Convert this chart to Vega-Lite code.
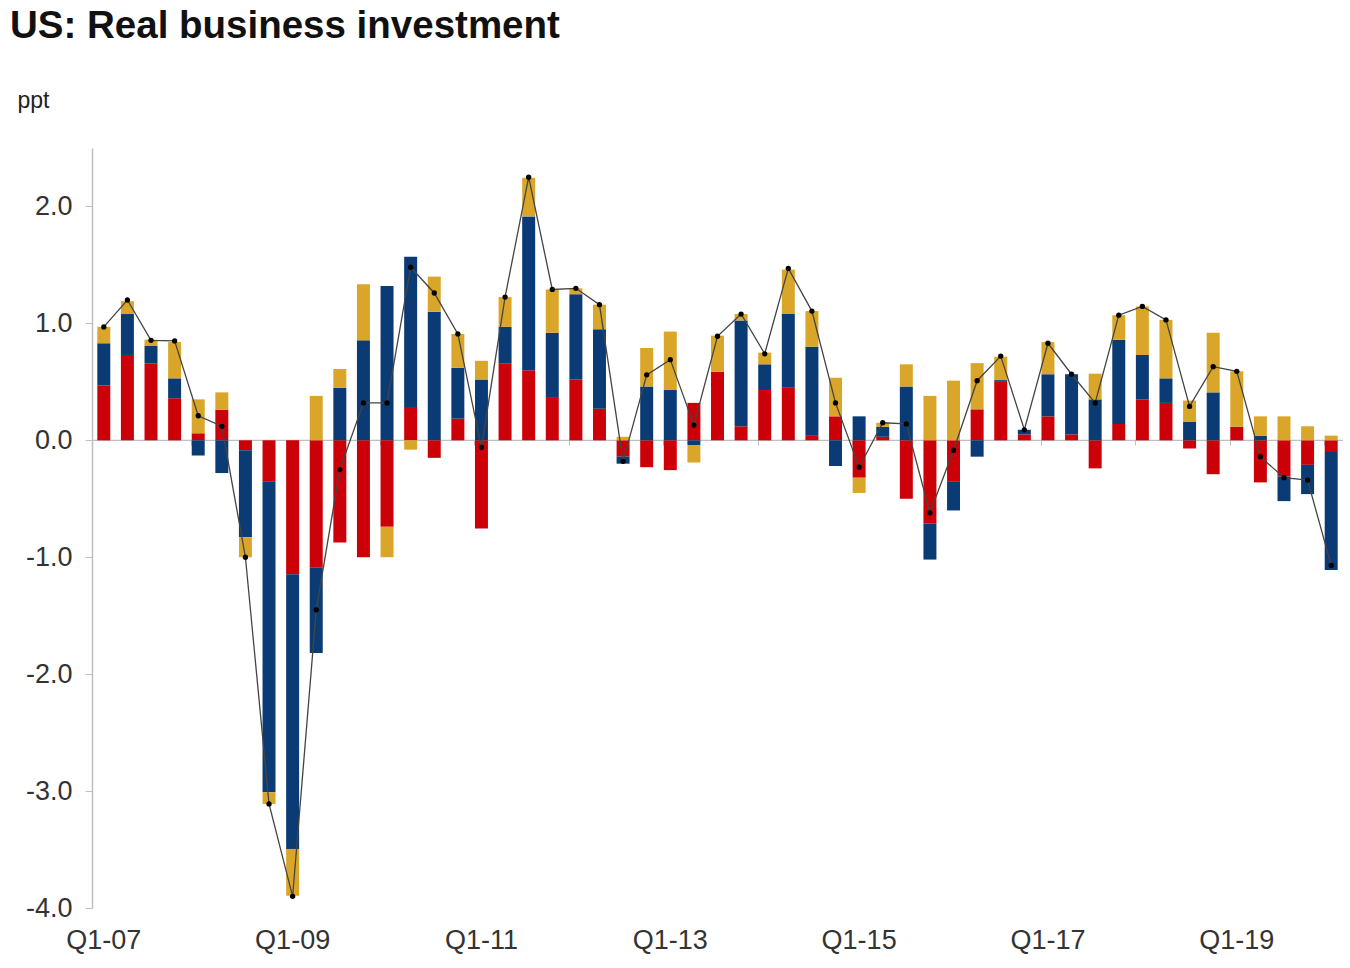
{
  "$schema": "https://vega.github.io/schema/vega-lite/v6.json",
  "width": 1251,
  "height": 760,
  "autosize": "none",
  "padding": {"left": 92, "top": 148, "right": 7, "bottom": 60},
  "background": "white",
  "config": {
    "font": "Liberation Sans",
    "view": {"stroke": null}
  },
  "title": {
    "text": "US: Real business investment",
    "anchor": "start",
    "frame": "group",
    "dx": -82,
    "offset": 43,
    "fontSize": 38.5,
    "fontWeight": "bold",
    "font": "Liberation Sans",
    "color": "#111111"
  },
  "data": {
    "values": [
      {"q": "Q1-07", "Structures": 0.47, "Equipment": 0.36, "IPP": 0.14, "total": 0.97},
      {"q": "Q2-07", "Structures": 0.73, "Equipment": 0.35, "IPP": 0.11, "total": 1.2},
      {"q": "Q3-07", "Structures": 0.66, "Equipment": 0.15, "IPP": 0.05, "total": 0.855},
      {"q": "Q4-07", "Structures": 0.36, "Equipment": 0.17, "IPP": 0.31, "total": 0.85},
      {"q": "Q1-08", "Structures": 0.06, "Equipment": -0.13, "IPP": 0.29, "total": 0.21},
      {"q": "Q2-08", "Structures": 0.26, "Equipment": -0.28, "IPP": 0.15, "total": 0.12},
      {"q": "Q3-08", "Structures": -0.085, "Equipment": -0.745, "IPP": -0.17, "total": -1.0},
      {"q": "Q4-08", "Structures": -0.35, "Equipment": -2.66, "IPP": -0.1, "total": -3.11},
      {"q": "Q1-09", "Structures": -1.145, "Equipment": -2.35, "IPP": -0.4, "total": -3.9},
      {"q": "Q2-09", "Structures": -1.09, "Equipment": -0.73, "IPP": 0.38, "total": -1.45},
      {"q": "Q3-09", "Structures": -0.875, "Equipment": 0.45, "IPP": 0.16, "total": -0.25},
      {"q": "Q4-09", "Structures": -1.0, "Equipment": 0.855, "IPP": 0.48, "total": 0.32},
      {"q": "Q1-10", "Structures": -0.74, "Equipment": 1.32, "IPP": -0.26, "total": 0.32},
      {"q": "Q2-10", "Structures": 0.285, "Equipment": 1.285, "IPP": -0.08, "total": 1.48},
      {"q": "Q3-10", "Structures": -0.15, "Equipment": 1.1, "IPP": 0.3, "total": 1.26},
      {"q": "Q4-10", "Structures": 0.185, "Equipment": 0.435, "IPP": 0.29, "total": 0.91},
      {"q": "Q1-11", "Structures": -0.755, "Equipment": 0.52, "IPP": 0.16, "total": -0.06},
      {"q": "Q2-11", "Structures": 0.655, "Equipment": 0.315, "IPP": 0.255, "total": 1.225},
      {"q": "Q3-11", "Structures": 0.6, "Equipment": 1.315, "IPP": 0.33, "total": 2.25},
      {"q": "Q4-11", "Structures": 0.37, "Equipment": 0.55, "IPP": 0.37, "total": 1.29},
      {"q": "Q1-12", "Structures": 0.52, "Equipment": 0.73, "IPP": 0.05, "total": 1.3},
      {"q": "Q2-12", "Structures": 0.27, "Equipment": 0.68, "IPP": 0.21, "total": 1.16},
      {"q": "Q3-12", "Structures": -0.14, "Equipment": -0.06, "IPP": 0.03, "total": -0.18},
      {"q": "Q4-12", "Structures": -0.23, "Equipment": 0.46, "IPP": 0.33, "total": 0.56},
      {"q": "Q1-13", "Structures": -0.255, "Equipment": 0.43, "IPP": 0.5, "total": 0.69},
      {"q": "Q2-13", "Structures": 0.32, "Equipment": -0.04, "IPP": -0.15, "total": 0.13},
      {"q": "Q3-13", "Structures": 0.585, "Equipment": 0.0, "IPP": 0.31, "total": 0.89},
      {"q": "Q4-13", "Structures": 0.12, "Equipment": 0.905, "IPP": 0.055, "total": 1.08},
      {"q": "Q1-14", "Structures": 0.43, "Equipment": 0.22, "IPP": 0.1, "total": 0.74},
      {"q": "Q2-14", "Structures": 0.45, "Equipment": 0.63, "IPP": 0.38, "total": 1.47},
      {"q": "Q3-14", "Structures": 0.04, "Equipment": 0.76, "IPP": 0.305, "total": 1.105},
      {"q": "Q4-14", "Structures": 0.205, "Equipment": -0.22, "IPP": 0.33, "total": 0.32},
      {"q": "Q1-15", "Structures": -0.32, "Equipment": 0.205, "IPP": -0.13, "total": -0.23},
      {"q": "Q2-15", "Structures": 0.03, "Equipment": 0.085, "IPP": 0.035, "total": 0.15},
      {"q": "Q3-15", "Structures": -0.5, "Equipment": 0.46, "IPP": 0.19, "total": 0.14},
      {"q": "Q4-15", "Structures": -0.71, "Equipment": -0.31, "IPP": 0.38, "total": -0.62},
      {"q": "Q1-16", "Structures": -0.355, "Equipment": -0.245, "IPP": 0.51, "total": -0.085},
      {"q": "Q2-16", "Structures": 0.265, "Equipment": -0.14, "IPP": 0.395, "total": 0.51},
      {"q": "Q3-16", "Structures": 0.5, "Equipment": 0.015, "IPP": 0.2, "total": 0.72},
      {"q": "Q4-16", "Structures": 0.05, "Equipment": 0.04, "IPP": 0.0, "total": 0.09},
      {"q": "Q1-17", "Structures": 0.205, "Equipment": 0.36, "IPP": 0.275, "total": 0.83},
      {"q": "Q2-17", "Structures": 0.05, "Equipment": 0.515, "IPP": 0.0, "total": 0.565},
      {"q": "Q3-17", "Structures": -0.24, "Equipment": 0.35, "IPP": 0.22, "total": 0.32},
      {"q": "Q4-17", "Structures": 0.14, "Equipment": 0.72, "IPP": 0.21, "total": 1.07},
      {"q": "Q1-18", "Structures": 0.35, "Equipment": 0.38, "IPP": 0.415, "total": 1.145},
      {"q": "Q2-18", "Structures": 0.32, "Equipment": 0.21, "IPP": 0.5, "total": 1.03},
      {"q": "Q3-18", "Structures": -0.07, "Equipment": 0.16, "IPP": 0.18, "total": 0.29},
      {"q": "Q4-18", "Structures": -0.29, "Equipment": 0.41, "IPP": 0.51, "total": 0.63},
      {"q": "Q1-19", "Structures": 0.115, "Equipment": 0.0, "IPP": 0.475, "total": 0.59},
      {"q": "Q2-19", "Structures": -0.36, "Equipment": 0.04, "IPP": 0.165, "total": -0.14},
      {"q": "Q3-19", "Structures": -0.31, "Equipment": -0.21, "IPP": 0.205, "total": -0.32},
      {"q": "Q4-19", "Structures": -0.21, "Equipment": -0.25, "IPP": 0.12, "total": -0.34},
      {"q": "Q1-20", "Structures": -0.1, "Equipment": -1.01, "IPP": 0.04, "total": -1.07}
    ]
  },
  "resolve": {"axis": {"x": "independent"}},
  "layer": [
    {
      "data": {"values": [{}]},
      "mark": {"type": "rule", "color": "#BFBFBF", "strokeWidth": 1.2},
      "encoding": {"y": {"datum": 0, "scale": {"domain": [-4, 2.5], "nice": false, "zero": false}}}
    },
    {
      "transform": [
        {"fold": ["Structures", "Equipment", "IPP"], "as": ["key", "value"]},
        {"lookup": "key", "from": {"data": {"values": [{"key": "Structures", "rank": 1}, {"key": "Equipment", "rank": 2}, {"key": "IPP", "rank": 3}]}, "key": "key", "fields": ["rank"]}}
      ],
      "mark": {"type": "bar"},
      "encoding": {
        "x": {
          "field": "q",
          "type": "ordinal",
          "sort": null,
          "scale": {"paddingInner": 0.45, "paddingOuter": 0.225},
          "axis": {
            "title": null,
            "values": ["Q1-07", "Q1-09", "Q1-11", "Q1-13", "Q1-15", "Q1-17", "Q1-19"],
            "labelAngle": 0,
            "labelFontSize": 27,
            "labelColor": "#333333",
            "labelPadding": 19,
            "ticks": false,
            "domain": false,
            "grid": false
          }
        },
        "y": {
          "field": "value",
          "type": "quantitative",
          "stack": "zero",
          "scale": {"domain": [-4, 2.5], "nice": false, "zero": false},
          "axis": {
            "values": [-4, -3, -2, -1, 0, 1, 2],
            "labelExpr": "replace(format(datum.value, '.1f'), '\u2212', '-')",
            "grid": false,
            "labelFontSize": 27,
            "labelColor": "#333333",
            "labelPadding": 13,
            "tickSize": 7,
            "tickColor": "#BFBFBF",
            "domainColor": "#BFBFBF",
            "domainWidth": 1.5,
            "title": "ppt",
            "titleAngle": 0,
            "titleAlign": "left",
            "titleBaseline": "alphabetic",
            "titleX": -75,
            "titleY": -41,
            "titleFontSize": 23,
            "titleFontWeight": "normal",
            "titleColor": "#222222"
          }
        },
        "color": {
          "field": "key",
          "type": "nominal",
          "scale": {"domain": ["Structures", "Equipment", "IPP"], "range": ["#CC0008", "#0B3B74", "#D9A62A"]},
          "legend": null
        },
        "order": {"field": "rank", "type": "quantitative", "sort": "ascending"}
      }
    },
    {
      "mark": {"type": "line", "color": "#444444", "strokeWidth": 1.3, "point": {"filled": true, "color": "#000000", "size": 28}},
      "encoding": {
        "x": {
          "field": "q",
          "type": "ordinal",
          "sort": null,
          "axis": {
            "title": null,
            "orient": "bottom",
            "offset": -468,
            "labels": false,
            "domain": false,
            "grid": false,
            "ticks": true,
            "tickSize": 5,
            "tickColor": "#BFBFBF",
            "bandPosition": 0,
            "values": ["Q1-08", "Q1-09", "Q1-10", "Q1-11", "Q1-12", "Q1-13", "Q1-14", "Q1-15", "Q1-16", "Q1-17", "Q1-18", "Q1-19", "Q1-20"]
          }
        },
        "y": {"field": "total", "type": "quantitative", "scale": {"domain": [-4, 2.5], "nice": false, "zero": false}}
      }
    }
  ]
}
